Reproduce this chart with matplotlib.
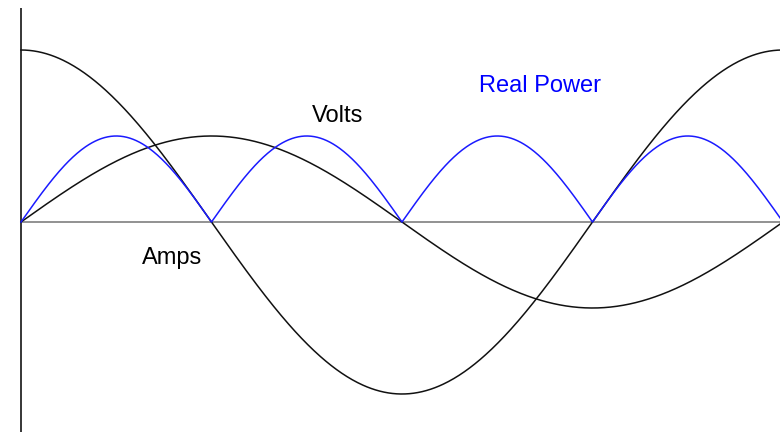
import numpy as np
import matplotlib
matplotlib.use("Agg")
import matplotlib.pyplot as plt

# --- data ---
series_names = ["Amps", "Volts", "Real Power"]
amps_peak = 2.0          # amplitude of current wave
volts_peak = 1.0         # amplitude of voltage wave
angle_deg = np.linspace(0, 360, 721)

amps = amps_peak * np.cos(np.radians(angle_deg))
volts = volts_peak * np.sin(np.radians(angle_deg))
real_power = np.abs(amps * volts)

W, H = 780, 432
fig = plt.figure(figsize=(W / 100, H / 100), dpi=100)
ax = fig.add_axes([0, 0, 1, 1])
px_per_deg = 762 / 360.0
px_per_unit = 86.0
x0 = -21 / px_per_deg
ax.set_xlim(x0, (780 - 21) / px_per_deg)
ax.set_ylim(-(H - 222) / px_per_unit, 222 / px_per_unit)
ax.axis("off")

# axes lines
ax.plot([0, 360], [0, 0], color="#7f7f7f", lw=1.2, solid_capstyle="butt")
ax.plot([0, 0], [-(H - 222) / px_per_unit, (222 - 8) / px_per_unit],
        color="black", lw=1.1, solid_capstyle="butt")

ax.plot(angle_deg, amps, color="#111111", lw=1.1)
ax.plot(angle_deg, volts, color="#111111", lw=1.1)
ax.plot(angle_deg, real_power, color="#1a1aff", lw=1.1)

font = ["Liberation Sans", "DejaVu Sans"]
def label(text, xc, ybase, color):
    fig.text(xc / W, 1 - ybase / H, text, ha="center", va="baseline",
             fontsize=17, family=font, color=color)

label("Volts", 338, 122, "black")
label("Amps", 172, 264, "black")
label("Real Power", 540, 92, "#0000ff")

fig.savefig("out.png", dpi=100)
